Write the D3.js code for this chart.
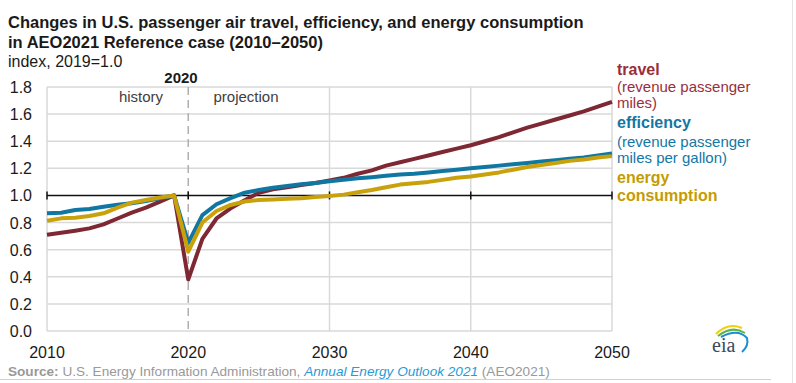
<!DOCTYPE html>
<html>
<head>
<meta charset="utf-8">
<script src="https://cdn.jsdelivr.net/npm/d3@7"></script>
<style>
  html, body { margin: 0; padding: 0; background: #fff; }
  svg { display: block; font-family: "Liberation Sans", Arial, sans-serif; }
</style>
</head>
<body>
<svg id="chart" width="796" height="383"></svg>
<script>
const years = d3.range(2010, 2051);
const travel = [0.71, 0.725, 0.74, 0.757, 0.787, 0.83, 0.873, 0.91, 0.954, 1.0,
  0.38, 0.68, 0.83, 0.905, 0.965, 1.02, 1.045, 1.06, 1.077, 1.092,
  1.11, 1.13, 1.16, 1.185, 1.22, 1.245, 1.27, 1.295, 1.32, 1.345,
  1.37, 1.40, 1.43, 1.465, 1.50, 1.53, 1.56, 1.59, 1.62, 1.655, 1.69];
const efficiency = [0.868, 0.873, 0.892, 0.9, 0.917, 0.932, 0.942, 0.959, 0.979, 1.0,
  0.65, 0.855, 0.935, 0.98, 1.02, 1.04, 1.057, 1.07, 1.082, 1.092,
  1.105, 1.115, 1.127, 1.135, 1.145, 1.155, 1.16, 1.17, 1.18, 1.19,
  1.20, 1.21, 1.22, 1.23, 1.24, 1.25, 1.26, 1.27, 1.28, 1.295, 1.31];
const energy = [0.814, 0.831, 0.836, 0.848, 0.868, 0.91, 0.947, 0.966, 0.985, 1.0,
  0.585, 0.80, 0.885, 0.93, 0.955, 0.966, 0.97, 0.975, 0.98, 0.988,
  0.996, 1.006, 1.023, 1.04, 1.06, 1.08, 1.09, 1.10, 1.115, 1.13,
  1.14, 1.155, 1.17, 1.19, 1.21, 1.225, 1.24, 1.255, 1.265, 1.28, 1.29];
const yTicks = [0, 0.2, 0.4, 0.6, 0.8, 1.0, 1.2, 1.4, 1.6, 1.8];
const xTicks = [2010, 2020, 2030, 2040, 2050];
const titleLines = ["Changes in U.S. passenger air travel, efficiency, and energy consumption",
  "in AEO2021 Reference case (2010\u20132050)"];
const unitLabel = "index, 2019=1.0";

const svg = d3.select("#chart");
svg.append("rect").attr("width", 796).attr("height", 383).attr("fill", "#fff");

const x = d3.scaleLinear().domain([2010, 2050]).range([47, 612]);
const y = d3.scaleLinear().domain([0, 1.8]).range([331, 87]);

// title
svg.append("g").selectAll("text").data(titleLines).join("text")
  .attr("x", 8).attr("y", (d, i) => 28 + i * 20)
  .attr("font-size", 16.5).attr("font-weight", "bold").attr("fill", "#1a1a1a")
  .text(d => d);
svg.append("text").attr("x", 8).attr("y", 67).attr("font-size", 16).attr("fill", "#1a1a1a").text(unitLabel);

// horizontal gridlines
svg.append("g").selectAll("line").data(yTicks.filter(d => d !== 1.0)).join("line")
  .attr("x1", x(2010)).attr("x2", x(2050))
  .attr("y1", d => y(d)).attr("y2", d => y(d))
  .attr("stroke", "#d9d9d9").attr("stroke-width", 1.5);
// vertical gridlines
svg.append("g").selectAll("line").data([2010, 2030, 2040, 2050]).join("line")
  .attr("x1", d => x(d)).attr("x2", d => x(d))
  .attr("y1", y(1.8)).attr("y2", y(0))
  .attr("stroke", "#d9d9d9").attr("stroke-width", 1.5);
// dashed 2020 line
svg.append("line").attr("x1", x(2020)).attr("x2", x(2020)).attr("y1", y(1.8)).attr("y2", y(0))
  .attr("stroke", "#b0b0b0").attr("stroke-width", 1.5).attr("stroke-dasharray", "8,5");

// y tick labels
svg.append("g").selectAll("text").data(yTicks).join("text")
  .attr("x", 32).attr("y", d => y(d) + 6)
  .attr("text-anchor", "end").attr("font-size", 16).attr("fill", "#1a1a1a")
  .text(d => d.toFixed(1));
// x tick labels
svg.append("g").selectAll("text").data(xTicks).join("text")
  .attr("x", d => x(d)).attr("y", 358)
  .attr("text-anchor", "middle").attr("font-size", 16).attr("fill", "#1a1a1a")
  .text(d => d);

// 1.0 reference line with ticks
svg.append("line").attr("x1", x(2010)).attr("x2", x(2050)).attr("y1", y(1)).attr("y2", y(1))
  .attr("stroke", "#111").attr("stroke-width", 1.5);
svg.append("g").selectAll("line").data(xTicks).join("line")
  .attr("x1", d => x(d)).attr("x2", d => x(d))
  .attr("y1", y(1) - 4).attr("y2", y(1) + 4)
  .attr("stroke", "#111").attr("stroke-width", 1.5);

// annotations
svg.append("text").attr("x", 181).attr("y", 83).attr("text-anchor", "middle")
  .attr("font-size", 15).attr("font-weight", "bold").attr("fill", "#1a1a1a").text("2020");
svg.append("text").attr("x", 141).attr("y", 102).attr("text-anchor", "middle")
  .attr("font-size", 15).attr("fill", "#404040").text("history");
svg.append("text").attr("x", 246).attr("y", 102).attr("text-anchor", "middle")
  .attr("font-size", 15).attr("fill", "#404040").text("projection");

// lines
const line = d3.line().x((d, i) => x(years[i])).y(d => y(d));
const series = [
  {name: "travel", values: travel, color: "#7e2833"},
  {name: "efficiency", values: efficiency, color: "#0f77a2"},
  {name: "energy", values: energy, color: "#c9a10b"}
];
svg.append("g").selectAll("path").data(series).join("path")
  .attr("d", d => line(d.values))
  .attr("fill", "none").attr("stroke", d => d.color).attr("stroke-width", 4)
  .attr("stroke-linejoin", "round");

// legend labels
const labels = [
  {t: "travel", y: 75, b: true, c: "#9a2e3c"},
  {t: "(revenue passenger", y: 92, b: false, c: "#9a2e3c"},
  {t: "miles)", y: 108, b: false, c: "#9a2e3c"},
  {t: "efficiency", y: 128, b: true, c: "#1277a4"},
  {t: "(revenue passenger", y: 147, b: false, c: "#1277a4"},
  {t: "miles per gallon)", y: 163, b: false, c: "#1277a4"},
  {t: "energy", y: 183, b: true, c: "#c49c00"},
  {t: "consumption", y: 201, b: true, c: "#c49c00"}
];
svg.append("g").selectAll("text").data(labels).join("text")
  .attr("x", 617).attr("y", d => d.y)
  .attr("font-size", d => d.b ? 16 : 15)
  .attr("font-weight", d => d.b ? "bold" : "normal")
  .attr("fill", d => d.c).text(d => d.t);

// source
const src = svg.append("text").attr("x", 8).attr("y", 376).attr("font-size", 13.6).attr("fill", "#999");
src.append("tspan").attr("font-weight", "bold").text("Source:");
src.append("tspan").text(" U.S. Energy Information Administration, ");
src.append("tspan").attr("font-style", "italic").attr("fill", "#2a9ad6").text("Annual Energy Outlook 2021");
src.append("tspan").text(" (AEO2021)");

// frame lines
svg.append("line").attr("x1", 0).attr("x2", 771).attr("y1", 379.5).attr("y2", 379.5)
  .attr("stroke", "#d0d0d0").attr("stroke-width", 1);
svg.append("line").attr("x1", 792.5).attr("x2", 792.5).attr("y1", 0).attr("y2", 383)
  .attr("stroke", "#e4e4e4").attr("stroke-width", 1);

// eia logo
const logo = svg.append("g");
logo.append("path").attr("d", "M716,334 Q728,322 742,328").attr("fill", "none").attr("stroke", "#f2cf13").attr("stroke-width", 2);
logo.append("path").attr("d", "M718,336 Q732,325 745,333").attr("fill", "none").attr("stroke", "#5cb447").attr("stroke-width", 2);
logo.append("path").attr("d", "M721,337 Q738,328 747,338 Q749,346 742,352").attr("fill", "none").attr("stroke", "#1a8fcf").attr("stroke-width", 2);
logo.append("text").attr("x", 712).attr("y", 352).attr("font-family", "'Liberation Serif', serif")
  .attr("font-size", 20).attr("fill", "#3b4a5a").text("eia");
</script>
</body>
</html>
